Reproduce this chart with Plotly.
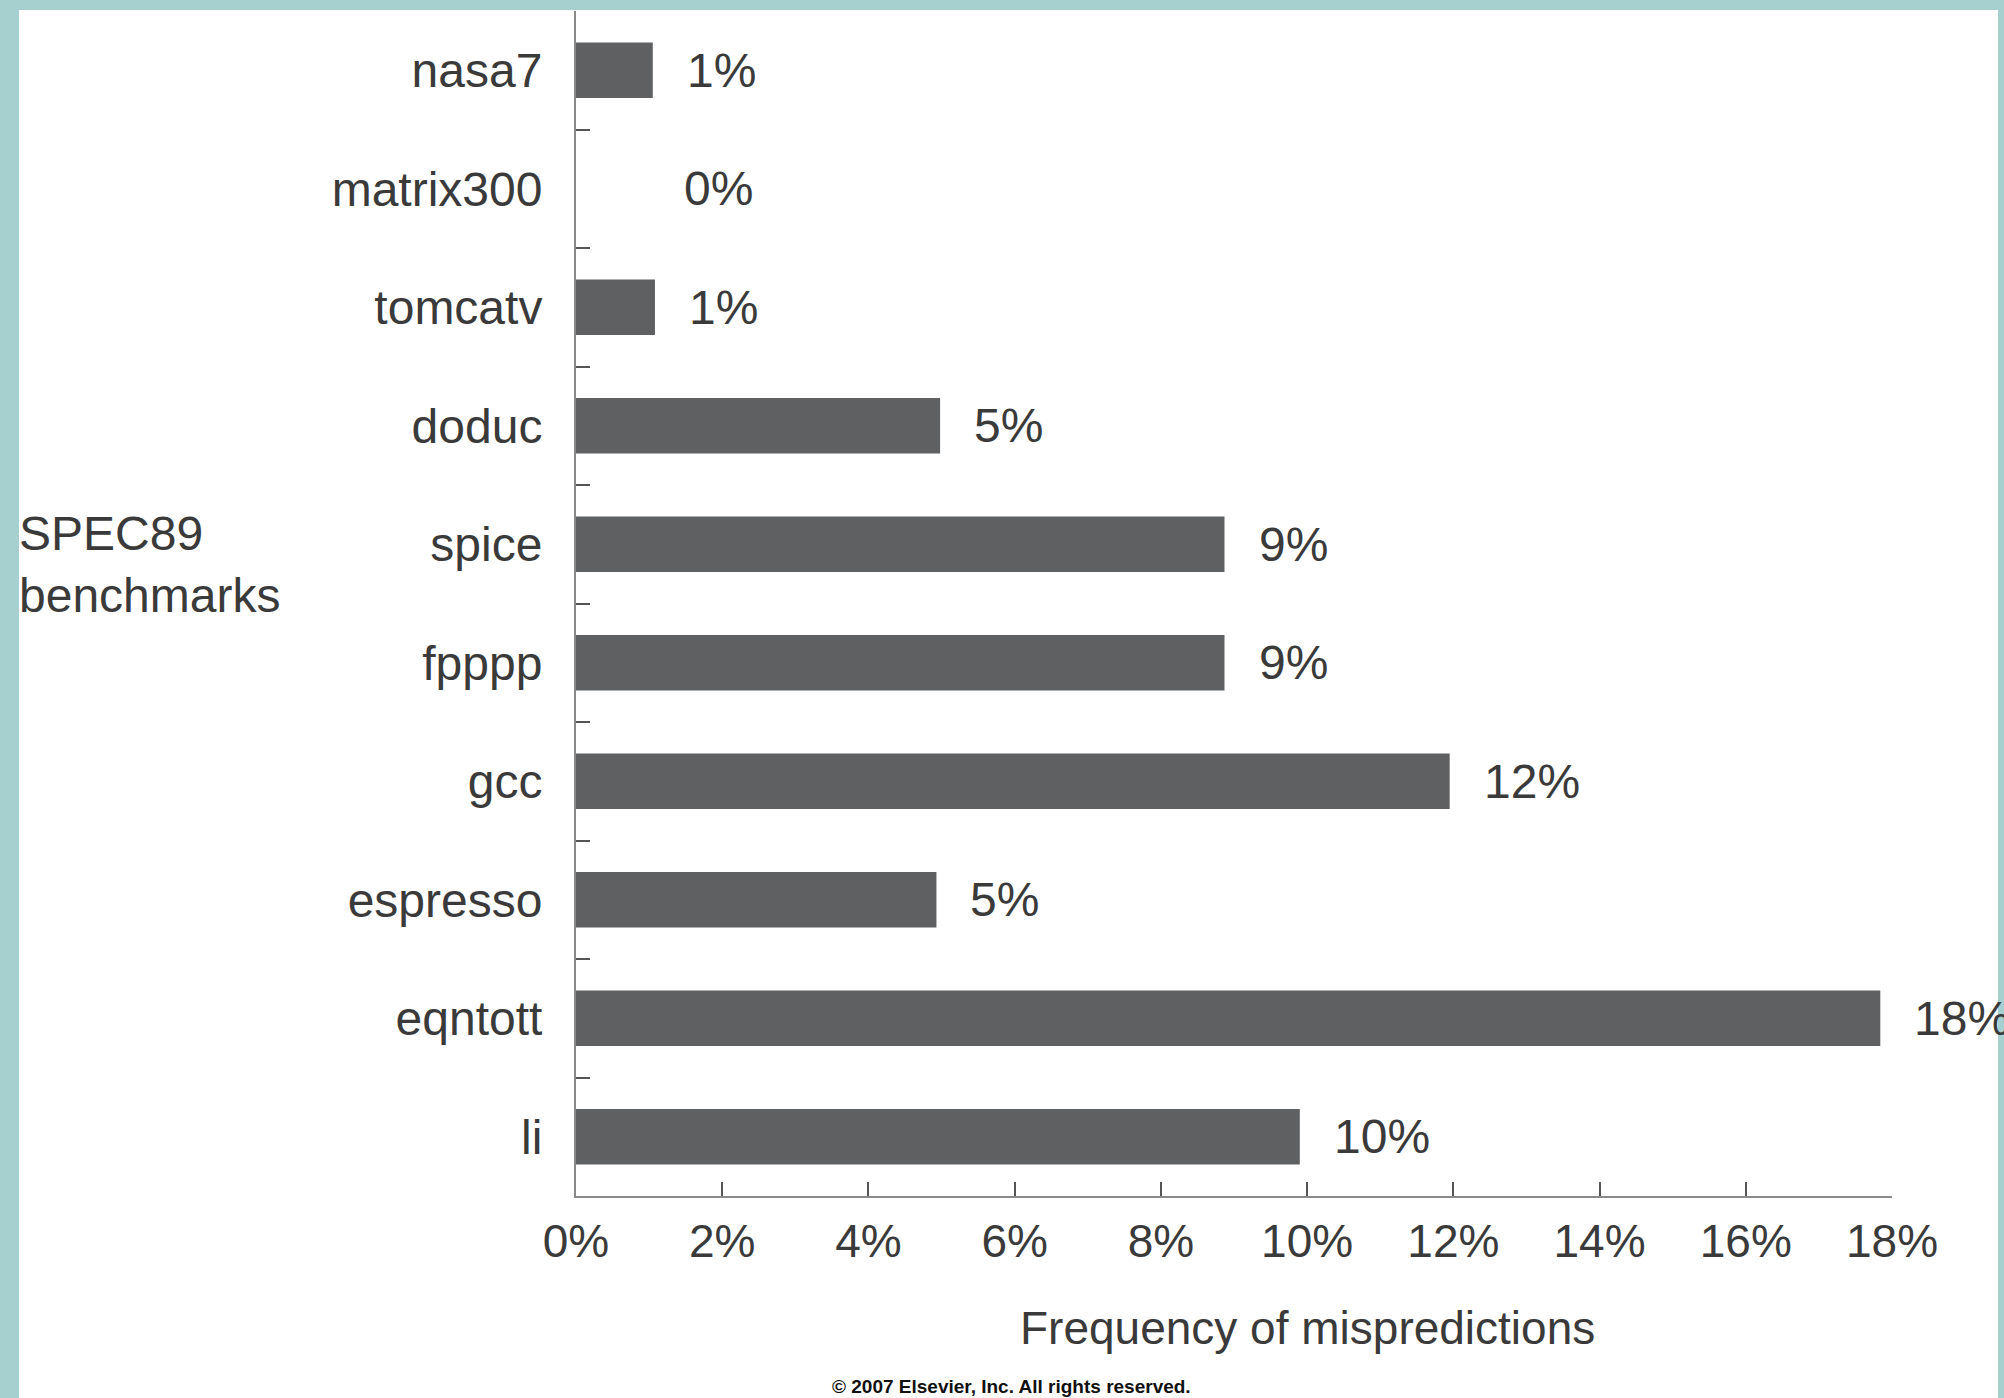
import plotly.graph_objects as go

# ---- data ----
benchmarks = ["nasa7", "matrix300", "tomcatv", "doduc", "spice",
              "fpppp", "gcc", "espresso", "eqntott", "li"]
mispredict_pct = [1.05, 0.0, 1.08, 4.98, 8.87, 8.87, 11.95, 4.93, 17.84, 9.9]
value_labels = ["1%", "0%", "1%", "5%", "9%", "9%", "12%", "5%", "18%", "10%"]
x_tick_vals = [0, 2, 4, 6, 8, 10, 12, 14, 16, 18]
x_tick_text = ["0%", "2%", "4%", "6%", "8%", "10%", "12%", "14%", "16%", "18%"]

# ---- layout constants (pixels) ----
W, H = 2004, 1398
L, R, T, B = 576, 2004 - 1892, 11, 1398 - 1196
FONT = "Liberation Sans, Arial, Helvetica, sans-serif"
TXT = "#3a3a3a"
BAR = "#5f6062"
TEAL = "#a6cfcf"
AX = "#8a8a8a"

fig = go.Figure()
fig.add_trace(go.Bar(
    y=benchmarks, x=mispredict_pct, orientation="h",
    marker=dict(color=BAR, line=dict(width=0)),
    width=0.47, showlegend=False, hoverinfo="skip",
))

annotations = []
for b, v, lab in zip(benchmarks, mispredict_pct, value_labels):
    annotations.append(dict(
        x=v, y=b, xref="x", yref="y", text=lab, showarrow=False,
        xanchor="left", yanchor="middle", xshift=32 if v > 0 else 106,
        font=dict(family=FONT, size=48, color=TXT),
    ))

pw = W - L - R
ph = H - T - B
def px_to_paper_x(px):
    return (px - L) / pw
def px_to_paper_y(py):
    return 1 - (py - T) / ph

annotations.append(dict(
    x=px_to_paper_x(17), y=px_to_paper_y(564), xref="paper", yref="paper",
    text="SPEC89<br>benchmarks", align="left", showarrow=False,
    xanchor="left", yanchor="middle",
    font=dict(family=FONT, size=48, color=TXT),
))
annotations.append(dict(
    x=10, y=px_to_paper_y(1328), xref="x", yref="paper",
    text="Frequency of mispredictions", showarrow=False,
    xanchor="center", yanchor="middle",
    font=dict(family=FONT, size=46, color=TXT),
))
annotations.append(dict(
    x=px_to_paper_x(1011), y=px_to_paper_y(1386), xref="paper", yref="paper",
    text="<b>© 2007 Elsevier, Inc. All rights reserved.</b>", showarrow=False,
    xanchor="center", yanchor="middle",
    font=dict(family=FONT, size=19, color="#111111"),
))

shapes = [
    # teal frame around white page
    dict(type="rect", xref="paper", yref="paper",
         x0=px_to_paper_x(0), x1=px_to_paper_x(19), y0=px_to_paper_y(H), y1=px_to_paper_y(0),
         fillcolor=TEAL, line=dict(width=0), layer="below"),
    dict(type="rect", xref="paper", yref="paper",
         x0=px_to_paper_x(0), x1=px_to_paper_x(W), y0=px_to_paper_y(10), y1=px_to_paper_y(0),
         fillcolor=TEAL, line=dict(width=0), layer="below"),
    dict(type="rect", xref="paper", yref="paper",
         x0=px_to_paper_x(1998), x1=px_to_paper_x(W), y0=px_to_paper_y(H), y1=px_to_paper_y(0),
         fillcolor=TEAL, line=dict(width=0), layer="below"),
]

fig.update_layout(
    width=W, height=H,
    margin=dict(l=L, r=R, t=T, b=B, pad=0),
    paper_bgcolor="white", plot_bgcolor="white",
    annotations=annotations, shapes=shapes,
    font=dict(family=FONT, color=TXT),
)
fig.update_xaxes(
    range=[0, 18], tickvals=x_tick_vals, ticktext=x_tick_text,
    showgrid=False, zeroline=False, showline=True, linecolor=AX, linewidth=2,
    ticks="inside", ticklen=14, tickcolor="#555555", tickwidth=2,
    tickfont=dict(family=FONT, size=46, color=TXT), ticklabelstandoff=4,
    fixedrange=True,
)
fig.update_yaxes(
    categoryorder="array", categoryarray=benchmarks, autorange="reversed",
    showgrid=False, zeroline=False, showline=True, linecolor=AX, linewidth=2,
    ticks="inside", ticklen=14, tickcolor="#555555", tickwidth=2,
    tickson="boundaries",
    tickfont=dict(family=FONT, size=48, color=TXT), ticklabelstandoff=22,
    fixedrange=True,
)

fig.write_html(
    "out.html",
    config={"displayModeBar": False},
    post_script="document.body.style.margin='0';document.body.style.overflow='hidden';",
)
